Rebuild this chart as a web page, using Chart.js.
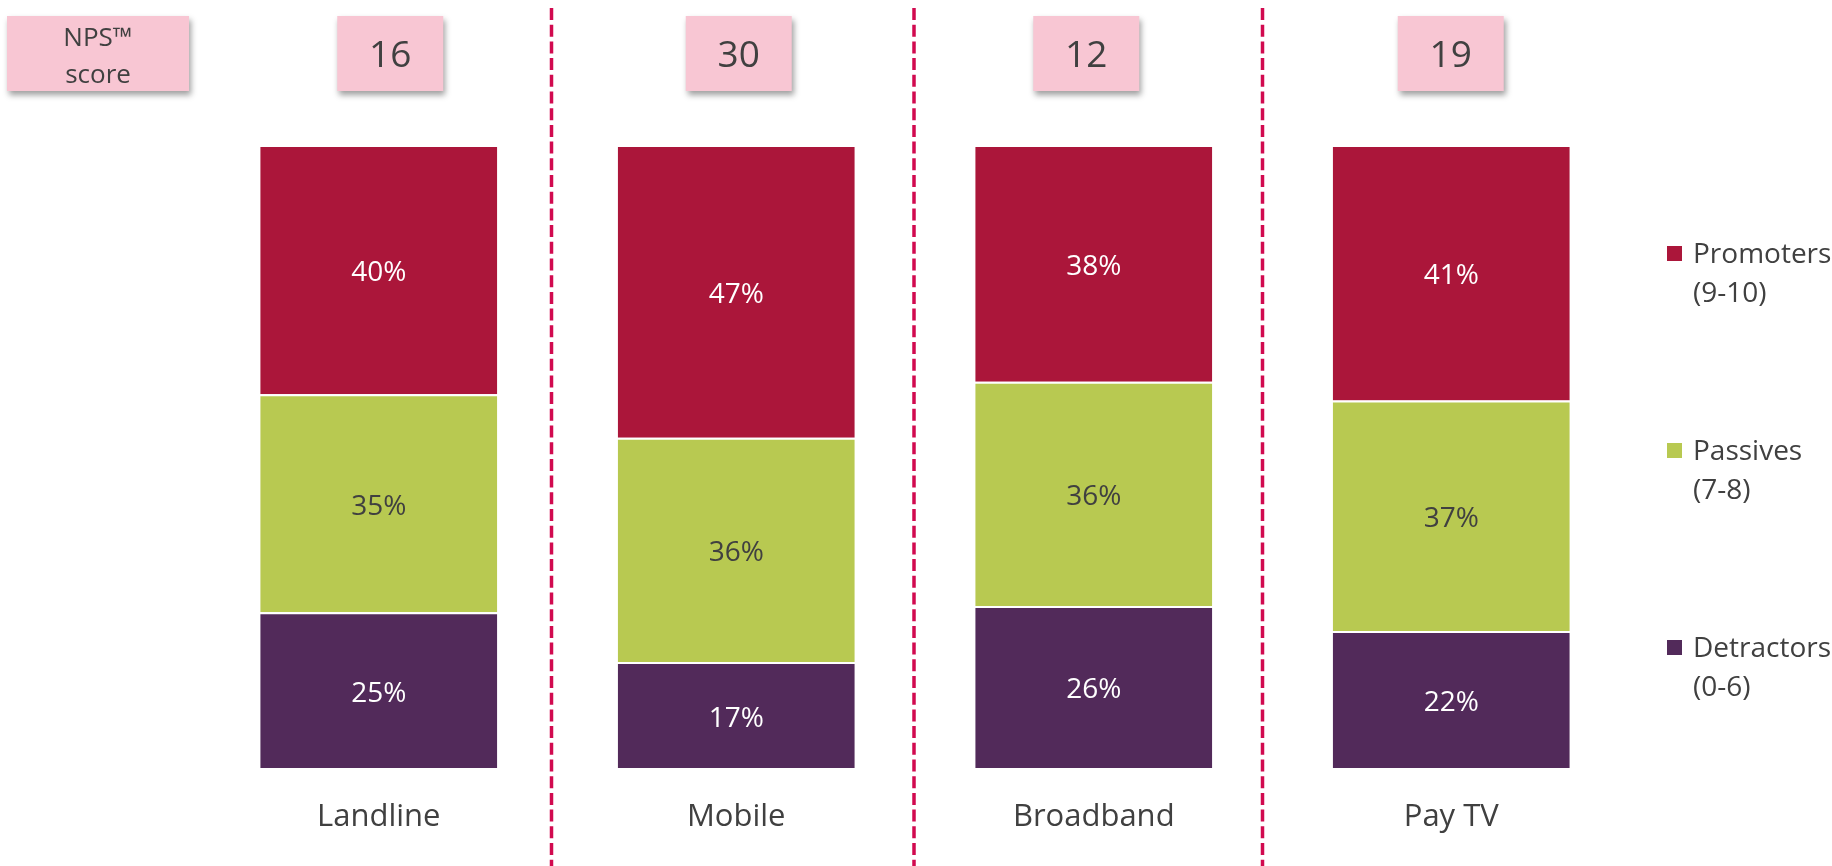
<!DOCTYPE html>
<html><head><meta charset="utf-8">
<script src="https://cdn.jsdelivr.net/npm/chart.js@4.4.1/dist/chart.umd.min.js"></script>
<style>html,body{margin:0;padding:0;background:#fff;overflow:hidden}#wrap{width:1832px;height:866px;position:relative}</style>
</head><body><div id="wrap"><canvas id="c" width="1832" height="866"></canvas></div>
<script>
const categories = ['Landline', 'Mobile', 'Broadband', 'Pay TV'];
const promoters = [40, 47, 38, 41];
const passives = [35, 36, 36, 37];
const detractors = [25, 17, 26, 22];
const npsScores = [16, 30, 12, 19];
const npsHeader = ['NPS\u2122', 'score'];
const promotersLabel = ['Promoters', '(9-10)'];
const passivesLabel = ['Passives', '(7-8)'];
const detractorsLabel = ['Detractors', '(0-6)'];

const FONT = "'Open Sans', 'DejaVu Sans', sans-serif";
const TEXT = '#404040';
const COLORS = { promoters: '#AB163A', passives: '#B8C951', detractors: '#522A5A' };

const decorations = {
  id: 'decorations',
  beforeDatasetsDraw(chart) {
    const ctx = chart.ctx, xs = chart.scales.x;
    const nudge = [-6, -1, -10];
    ctx.save();
    ctx.strokeStyle = '#D10A4F';
    ctx.lineWidth = 3.5;
    ctx.setLineDash([12, 4.7]);
    for (let i = 0; i < categories.length - 1; i++) {
      const x = (xs.getPixelForValue(i) + xs.getPixelForValue(i + 1)) / 2 + nudge[i];
      ctx.beginPath();
      ctx.moveTo(x, 8);
      ctx.lineTo(x, 866);
      ctx.stroke();
    }
    ctx.restore();
  },
  afterDraw(chart) {
    const ctx = chart.ctx, xs = chart.scales.x;
    const boxNudge = [11.5, 2.5, -7.5, -0.5];
    const drawBox = (x, y, w, h) => {
      ctx.save();
      ctx.shadowColor = 'rgba(0,0,0,0.38)';
      ctx.shadowBlur = 6;
      ctx.shadowOffsetX = 2;
      ctx.shadowOffsetY = 4;
      ctx.fillStyle = '#F8C6D3';
      ctx.fillRect(x, y, w, h);
      ctx.restore();
    };
    drawBox(7, 16, 182, 75);
    ctx.save();
    ctx.fillStyle = TEXT;
    ctx.textAlign = 'center';
    ctx.textBaseline = 'alphabetic';
    ctx.font = '26px ' + FONT;
    ctx.fillText(npsHeader[0], 98, 46);
    ctx.fillText(npsHeader[1], 98, 83);
    ctx.restore();
    npsScores.forEach((v, i) => {
      const cx = xs.getPixelForValue(i) + boxNudge[i];
      drawBox(cx - 53, 16, 106, 75);
      ctx.save();
      ctx.fillStyle = TEXT;
      ctx.textAlign = 'center';
      ctx.textBaseline = 'alphabetic';
      ctx.font = '37px ' + FONT;
      ctx.fillText(String(v), cx, 67);
      ctx.restore();
    });
    ctx.save();
    ctx.textAlign = 'center';
    ctx.textBaseline = 'middle';
    ctx.font = '28px ' + FONT;
    chart.data.datasets.forEach((ds, di) => {
      const meta = chart.getDatasetMeta(di);
      meta.data.forEach((el, i) => {
        const p = el.getProps(['x', 'y', 'base'], true);
        ctx.fillStyle = ds.labelColor;
        ctx.fillText(ds.data[i] + '%', p.x, (p.y + p.base) / 2 + 3.5);
      });
    });
    ctx.restore();
    const legendRows = [
      { label: promotersLabel, color: COLORS.promoters, y: 263 },
      { label: passivesLabel, color: COLORS.passives, y: 460 },
      { label: detractorsLabel, color: COLORS.detractors, y: 657 }
    ];
    ctx.save();
    ctx.font = '28px ' + FONT;
    ctx.textAlign = 'left';
    ctx.textBaseline = 'alphabetic';
    legendRows.forEach(r => {
      ctx.fillStyle = r.color;
      ctx.fillRect(1667, r.y - 17, 15, 15);
      ctx.fillStyle = TEXT;
      ctx.fillText(r.label[0], 1693, r.y);
      ctx.fillText(r.label[1], 1693, r.y + 39);
    });
    ctx.restore();
  }
};

new Chart(document.getElementById('c'), {
  type: 'bar',
  data: {
    labels: categories,
    datasets: [
      { label: detractorsLabel.join(' '), data: detractors, backgroundColor: COLORS.detractors, labelColor: '#FFFFFF' },
      { label: passivesLabel.join(' '), data: passives, backgroundColor: COLORS.passives, labelColor: TEXT },
      { label: promotersLabel.join(' '), data: promoters, backgroundColor: COLORS.promoters, labelColor: '#FFFFFF' }
    ].map(d => Object.assign(d, {
      borderColor: '#FFFFFF',
      borderWidth: { top: 2, left: 0, right: 0, bottom: 0 },
      borderSkipped: false,
      barPercentage: 0.663,
      categoryPercentage: 1
    }))
  },
  options: {
    responsive: false,
    devicePixelRatio: 1,
    animation: false,
    layout: { padding: { left: 200, right: 202, top: 145, bottom: 0 } },
    plugins: { legend: { display: false }, tooltip: { enabled: false } },
    scales: {
      x: {
        stacked: true,
        grid: { display: false, drawTicks: false },
        border: { display: false },
        ticks: { color: TEXT, font: { family: FONT, size: 31 }, padding: 31 },
        afterFit: s => { s.height = 98; }
      },
      y: { stacked: true, display: false, min: 0, max: 100 }
    }
  },
  plugins: [decorations]
});
</script></body></html>
